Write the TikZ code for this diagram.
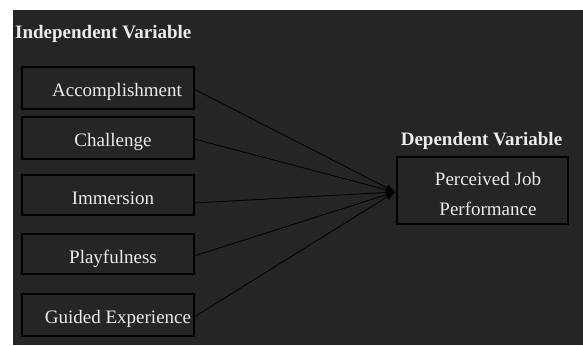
\documentclass[tikz,border=0pt]{standalone}
\usepackage{fontspec}
\setmainfont{Liberation Serif}
\usetikzlibrary{arrows.meta}
\definecolor{bg}{RGB}{37,37,37}
\definecolor{txt}{RGB}{236,236,236}
\begin{document}
\begin{tikzpicture}[x=1pt,y=-1pt,
  box/.style={draw=black,line width=1.4pt,fill=bg,minimum width=172pt,inner sep=0pt,outer sep=0pt},
  lbl/.style={anchor=base,inner sep=0pt,text=txt,font=\fontsize{19}{23}\selectfont},
  ttl/.style={anchor=base west,inner sep=0pt,text=txt,font=\fontsize{19}{23}\selectfont\bfseries},
  conn/.style={draw=black,line width=0.8pt,-{Latex[length=9pt,width=7pt]}}]
\useasboundingbox (0,0) rectangle (583,345);
\fill[white] (0,0) rectangle (583,345);
\fill[bg] (13,10) rectangle (583,345);
\node[ttl] (iv) at (15,39) {Independent Variable};
\node[box,minimum height=42pt] (b1) at (108,88) {};
\node[box,minimum height=42pt] (b2) at (108,138) {};
\node[box,minimum height=40pt] (b3) at (108,195) {};
\node[box,minimum height=40pt] (b4) at (108,254) {};
\node[box,minimum height=42pt] (b5) at (108,315) {};
\node[lbl] (t1) at (117,96.5) {Accomplishment};
\node[lbl] (t2) at (113,146) {Challenge};
\node[lbl] (t3) at (113,204) {Immersion};
\node[lbl] (t4) at (113,263) {Playfulness};
\node[lbl] (t5) at (118,323) {Guided Experience};
\node[box,minimum width=171pt,minimum height=67pt] (dv) at (482.5,190.5) {};
\node[ttl,anchor=base] (dvt) at (481.5,145.5) {Dependent Variable};
\node[lbl] (d1) at (488,185) {Perceived Job};
\node[lbl] (d2) at (488,215.5) {Performance};
\coordinate (tip) at (395,192);
\draw[conn] ([yshift=-1pt]b1.east) -- (tip);
\draw[conn] ([yshift=-1pt]b2.east) -- (tip);
\draw[conn] ([yshift=-8pt]b3.east) -- (tip);
\draw[conn] ([yshift=-2pt]b4.east) -- (tip);
\draw[conn] ([yshift=-2pt]b5.east) -- (tip);
\end{tikzpicture}
\end{document}
